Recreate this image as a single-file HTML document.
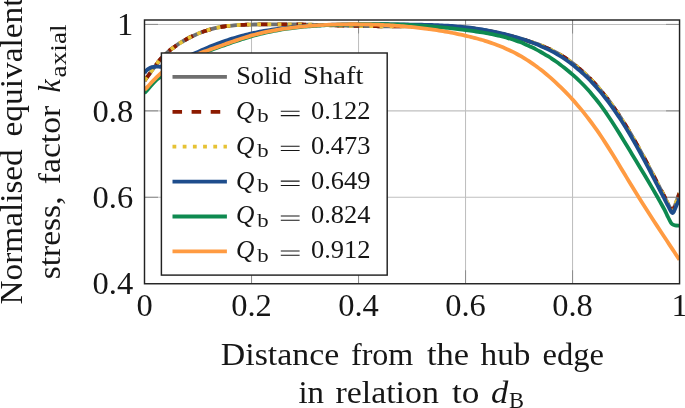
<!DOCTYPE html>
<html><head><meta charset="utf-8"><title>chart</title>
<style>html,body{margin:0;padding:0;background:#fff;overflow:hidden}body{width:685px;height:408px;position:relative;font-family:"Liberation Serif",serif}</style>
</head><body>
<svg width="685" height="408" viewBox="0 0 685 408" style="position:absolute;left:0;top:0">
<rect x="0" y="0" width="685" height="408" fill="#fff"/>
<line x1="251.51" y1="20.0" x2="251.51" y2="283.75" stroke="#bfbfbf" stroke-width="1.05"/>
<line x1="358.52" y1="20.0" x2="358.52" y2="283.75" stroke="#bfbfbf" stroke-width="1.05"/>
<line x1="465.53" y1="20.0" x2="465.53" y2="283.75" stroke="#bfbfbf" stroke-width="1.05"/>
<line x1="572.54" y1="20.0" x2="572.54" y2="283.75" stroke="#bfbfbf" stroke-width="1.05"/>
<line x1="144.5" y1="197.30" x2="679.55" y2="197.30" stroke="#bfbfbf" stroke-width="1.05"/>
<line x1="144.5" y1="110.85" x2="679.55" y2="110.85" stroke="#bfbfbf" stroke-width="1.05"/>
<line x1="144.5" y1="24.40" x2="679.55" y2="24.40" stroke="#bfbfbf" stroke-width="1.05"/>
<line x1="251.51" y1="283.75" x2="251.51" y2="270.25" stroke="#8e8e8e" stroke-width="1.05"/>
<line x1="251.51" y1="20.0" x2="251.51" y2="33.5" stroke="#8e8e8e" stroke-width="1.05"/>
<line x1="358.52" y1="283.75" x2="358.52" y2="270.25" stroke="#8e8e8e" stroke-width="1.05"/>
<line x1="358.52" y1="20.0" x2="358.52" y2="33.5" stroke="#8e8e8e" stroke-width="1.05"/>
<line x1="465.53" y1="283.75" x2="465.53" y2="270.25" stroke="#8e8e8e" stroke-width="1.05"/>
<line x1="465.53" y1="20.0" x2="465.53" y2="33.5" stroke="#8e8e8e" stroke-width="1.05"/>
<line x1="572.54" y1="283.75" x2="572.54" y2="270.25" stroke="#8e8e8e" stroke-width="1.05"/>
<line x1="572.54" y1="20.0" x2="572.54" y2="33.5" stroke="#8e8e8e" stroke-width="1.05"/>
<line x1="144.5" y1="197.30" x2="158.0" y2="197.30" stroke="#8e8e8e" stroke-width="1.05"/>
<line x1="679.55" y1="197.30" x2="666.05" y2="197.30" stroke="#8e8e8e" stroke-width="1.05"/>
<line x1="144.5" y1="110.85" x2="158.0" y2="110.85" stroke="#8e8e8e" stroke-width="1.05"/>
<line x1="679.55" y1="110.85" x2="666.05" y2="110.85" stroke="#8e8e8e" stroke-width="1.05"/>
<line x1="144.5" y1="24.40" x2="158.0" y2="24.40" stroke="#8e8e8e" stroke-width="1.05"/>
<line x1="679.55" y1="24.40" x2="666.05" y2="24.40" stroke="#8e8e8e" stroke-width="1.05"/>
<clipPath id="cp"><rect x="144.5" y="20.0" width="535.05" height="263.75"/></clipPath>
<g clip-path="url(#cp)" fill="none" stroke-width="3.8">
<path d="M144.50,80.60 C145.08,79.83 146.85,77.57 148.00,76.00 C149.15,74.43 150.15,72.93 151.40,71.20 C152.65,69.47 154.15,67.42 155.50,65.60 C156.85,63.78 158.25,61.83 159.50,60.30 C160.75,58.77 161.55,57.85 163.00,56.40 C164.45,54.95 166.67,52.92 168.20,51.60 C169.73,50.28 170.87,49.49 172.20,48.49 C173.53,47.49 174.87,46.53 176.20,45.61 C177.53,44.69 178.87,43.80 180.20,42.95 C181.53,42.10 182.87,41.29 184.20,40.51 C185.53,39.73 186.87,38.99 188.20,38.28 C189.53,37.56 190.87,36.89 192.20,36.25 C193.53,35.60 194.87,34.99 196.20,34.41 C197.53,33.83 198.87,33.29 200.20,32.77 C201.53,32.25 202.87,31.76 204.20,31.31 C205.53,30.85 206.87,30.42 208.20,30.02 C209.53,29.62 210.87,29.25 212.20,28.91 C213.53,28.56 214.87,28.25 216.20,27.96 C217.53,27.67 218.87,27.40 220.20,27.16 C221.53,26.92 222.87,26.70 224.20,26.50 C225.53,26.30 226.87,26.13 228.20,25.97 C229.53,25.81 230.87,25.67 232.20,25.54 C233.53,25.42 234.87,25.31 236.20,25.21 C237.53,25.12 238.87,25.04 240.20,24.97 C241.53,24.89 242.87,24.84 244.20,24.78 C245.53,24.73 246.87,24.69 248.20,24.65 C249.53,24.61 250.87,24.58 252.20,24.56 C253.53,24.53 254.87,24.51 256.20,24.48 C257.53,24.46 258.87,24.44 260.20,24.42 C261.53,24.40 262.87,24.39 264.20,24.37 C265.53,24.36 266.87,24.34 268.20,24.33 C269.53,24.32 270.87,24.31 272.20,24.31 C273.53,24.30 274.87,24.29 276.20,24.29 C277.53,24.29 278.87,24.29 280.20,24.29 C281.53,24.29 282.87,24.30 284.20,24.30 C285.53,24.31 286.87,24.32 288.20,24.33 C289.53,24.34 290.87,24.35 292.20,24.36 C293.53,24.38 294.87,24.39 296.20,24.41 C297.53,24.43 298.87,24.45 300.20,24.48 C301.53,24.50 302.87,24.53 304.20,24.55 C305.53,24.58 306.87,24.61 308.20,24.64 C309.53,24.67 310.87,24.71 312.20,24.74 C313.53,24.78 314.87,24.81 316.20,24.85 C317.53,24.89 318.87,24.92 320.20,24.96 C321.53,25.00 322.87,25.04 324.20,25.08 C325.53,25.12 326.87,25.16 328.20,25.20 C329.53,25.24 330.87,25.28 332.20,25.32 C333.53,25.36 334.87,25.40 336.20,25.44 C337.53,25.47 338.87,25.51 340.20,25.55 C341.53,25.59 342.87,25.62 344.20,25.66 C345.53,25.69 346.87,25.73 348.20,25.76 C349.53,25.79 350.87,25.82 352.20,25.85 C353.53,25.88 354.87,25.90 356.20,25.93 C357.53,25.95 358.87,25.98 360.20,26.00 C361.53,26.02 362.87,26.04 364.20,26.06 C365.53,26.08 366.87,26.10 368.20,26.12 C369.53,26.14 370.87,26.15 372.20,26.17 C373.53,26.18 374.87,26.20 376.20,26.21 C377.53,26.22 378.87,26.24 380.20,26.25 C381.53,26.26 382.87,26.27 384.20,26.28 C385.53,26.29 386.87,26.30 388.20,26.31 C389.53,26.32 390.87,26.33 392.20,26.34 C393.53,26.35 394.87,26.36 396.20,26.37 C397.53,26.38 398.87,26.39 400.20,26.40 C401.53,26.41 402.87,26.42 404.20,26.43 C405.53,26.43 406.87,26.44 408.20,26.45 C409.53,26.46 410.87,26.47 412.20,26.48 C413.53,26.50 414.87,26.51 416.20,26.52 C417.53,26.53 418.87,26.54 420.20,26.56 C421.53,26.57 422.87,26.59 424.20,26.61 C425.53,26.63 426.87,26.65 428.20,26.67 C429.53,26.69 430.87,26.71 432.20,26.74 C433.53,26.77 434.87,26.80 436.20,26.83 C437.53,26.86 438.87,26.90 440.20,26.94 C441.53,26.97 442.87,27.02 444.20,27.06 C445.53,27.11 446.87,27.16 448.20,27.21 C449.53,27.26 450.87,27.32 452.20,27.38 C453.53,27.45 454.90,27.51 456.20,27.58 C457.50,27.65 458.70,27.82 460.00,27.80 C461.30,27.78 462.67,27.45 464.00,27.46 C465.33,27.48 466.67,27.75 468.00,27.90 C469.33,28.06 470.67,28.22 472.00,28.39 C473.33,28.56 474.67,28.75 476.00,28.94 C477.33,29.13 478.67,29.33 480.00,29.54 C481.33,29.75 482.67,29.97 484.00,30.19 C485.33,30.42 486.67,30.66 488.00,30.91 C489.33,31.16 490.67,31.41 492.00,31.68 C493.33,31.95 494.67,32.22 496.00,32.51 C497.33,32.80 498.67,33.10 500.00,33.40 C501.33,33.71 502.67,34.03 504.00,34.35 C505.33,34.68 506.67,35.02 508.00,35.37 C509.33,35.72 510.67,36.07 512.00,36.44 C513.33,36.81 514.67,37.19 516.00,37.58 C517.33,37.98 518.67,38.41 520.00,38.79 C521.33,39.17 522.67,39.49 524.00,39.86 C525.33,40.23 526.67,40.61 528.00,41.01 C529.33,41.41 530.67,41.82 532.00,42.25 C533.33,42.68 534.67,43.12 536.00,43.59 C537.33,44.05 538.67,44.52 540.00,45.04 C541.33,45.55 542.67,46.11 544.00,46.67 C545.33,47.24 546.67,47.83 548.00,48.44 C549.33,49.06 550.67,49.69 552.00,50.36 C553.33,51.02 554.67,51.71 556.00,52.43 C557.33,53.15 558.67,53.88 560.00,54.68 C561.33,55.47 562.67,56.31 564.00,57.18 C565.33,58.05 566.67,58.94 568.00,59.88 C569.33,60.81 570.67,61.77 572.00,62.77 C573.33,63.77 574.67,64.81 576.00,65.88 C577.33,66.95 578.67,68.06 580.00,69.20 C581.33,70.35 582.67,71.53 584.00,72.76 C585.33,73.98 586.67,75.24 588.00,76.55 C589.33,77.86 590.67,79.20 592.00,80.59 C593.33,81.98 594.67,83.41 596.00,84.89 C597.33,86.37 598.67,87.88 600.00,89.46 C601.33,91.03 602.67,92.66 604.00,94.33 C605.33,96.00 606.67,97.71 608.00,99.47 C609.33,101.23 610.67,103.04 612.00,104.89 C613.33,106.74 614.67,108.63 616.00,110.57 C617.33,112.51 618.67,114.49 620.00,116.52 C621.33,118.54 622.67,120.61 624.00,122.72 C625.33,124.84 626.67,126.99 628.00,129.19 C629.33,131.38 630.67,133.62 632.00,135.90 C633.33,138.19 634.67,140.51 636.00,142.87 C637.33,145.23 638.67,147.63 640.00,150.07 C641.33,152.51 642.67,154.99 644.00,157.49 C645.33,159.98 646.67,162.51 648.00,165.04 C649.33,167.57 650.67,170.13 652.00,172.69 C653.33,175.24 654.67,177.81 656.00,180.37 C657.33,182.93 658.72,185.59 660.00,188.05 C661.28,190.50 662.70,193.14 663.70,195.10 C664.70,197.06 665.12,198.02 666.00,199.80 C666.88,201.58 668.17,204.20 669.00,205.80 C669.83,207.40 670.43,208.60 671.00,209.40 C671.57,210.20 671.97,210.63 672.40,210.60 C672.83,210.57 673.17,210.07 673.60,209.20 C674.03,208.33 674.43,206.97 675.00,205.40 C675.57,203.83 676.27,201.83 677.00,199.80 C677.73,197.77 679.00,194.30 679.40,193.20" stroke="#6f6f6f"/>
<path d="M144.50,80.60 C145.08,79.83 146.85,77.57 148.00,76.00 C149.15,74.43 150.15,72.93 151.40,71.20 C152.65,69.47 154.15,67.42 155.50,65.60 C156.85,63.78 158.25,61.83 159.50,60.30 C160.75,58.77 161.55,57.85 163.00,56.40 C164.45,54.95 166.67,52.92 168.20,51.60 C169.73,50.28 170.87,49.49 172.20,48.49 C173.53,47.49 174.87,46.53 176.20,45.61 C177.53,44.69 178.87,43.80 180.20,42.95 C181.53,42.10 182.87,41.29 184.20,40.51 C185.53,39.73 186.87,38.99 188.20,38.28 C189.53,37.56 190.87,36.89 192.20,36.25 C193.53,35.60 194.87,34.99 196.20,34.41 C197.53,33.83 198.87,33.29 200.20,32.77 C201.53,32.25 202.87,31.76 204.20,31.31 C205.53,30.85 206.87,30.42 208.20,30.02 C209.53,29.62 210.87,29.25 212.20,28.91 C213.53,28.56 214.87,28.25 216.20,27.96 C217.53,27.67 218.87,27.40 220.20,27.16 C221.53,26.92 222.87,26.70 224.20,26.50 C225.53,26.30 226.87,26.13 228.20,25.97 C229.53,25.81 230.87,25.67 232.20,25.54 C233.53,25.42 234.87,25.31 236.20,25.21 C237.53,25.12 238.87,25.04 240.20,24.97 C241.53,24.89 242.87,24.84 244.20,24.78 C245.53,24.73 246.87,24.69 248.20,24.65 C249.53,24.61 250.87,24.58 252.20,24.56 C253.53,24.53 254.87,24.51 256.20,24.48 C257.53,24.46 258.87,24.44 260.20,24.42 C261.53,24.40 262.87,24.39 264.20,24.37 C265.53,24.36 266.87,24.34 268.20,24.33 C269.53,24.32 270.87,24.31 272.20,24.31 C273.53,24.30 274.87,24.29 276.20,24.29 C277.53,24.29 278.87,24.29 280.20,24.29 C281.53,24.29 282.87,24.30 284.20,24.30 C285.53,24.31 286.87,24.32 288.20,24.33 C289.53,24.34 290.87,24.35 292.20,24.36 C293.53,24.38 294.87,24.39 296.20,24.41 C297.53,24.43 298.87,24.45 300.20,24.48 C301.53,24.50 302.87,24.53 304.20,24.55 C305.53,24.58 306.87,24.61 308.20,24.64 C309.53,24.67 310.87,24.71 312.20,24.74 C313.53,24.78 314.87,24.81 316.20,24.85 C317.53,24.89 318.87,24.92 320.20,24.96 C321.53,25.00 322.87,25.04 324.20,25.08 C325.53,25.12 326.87,25.16 328.20,25.20 C329.53,25.24 330.87,25.28 332.20,25.32 C333.53,25.36 334.87,25.40 336.20,25.44 C337.53,25.47 338.87,25.51 340.20,25.55 C341.53,25.59 342.87,25.62 344.20,25.66 C345.53,25.69 346.87,25.73 348.20,25.76 C349.53,25.79 350.87,25.82 352.20,25.85 C353.53,25.88 354.87,25.90 356.20,25.93 C357.53,25.95 358.87,25.98 360.20,26.00 C361.53,26.02 362.87,26.04 364.20,26.06 C365.53,26.08 366.87,26.10 368.20,26.12 C369.53,26.14 370.87,26.15 372.20,26.17 C373.53,26.18 374.87,26.20 376.20,26.21 C377.53,26.22 378.87,26.24 380.20,26.25 C381.53,26.26 382.87,26.27 384.20,26.28 C385.53,26.29 386.87,26.30 388.20,26.31 C389.53,26.32 390.87,26.33 392.20,26.34 C393.53,26.35 394.87,26.36 396.20,26.37 C397.53,26.38 398.87,26.39 400.20,26.40 C401.53,26.41 402.87,26.42 404.20,26.43 C405.53,26.43 406.87,26.44 408.20,26.45 C409.53,26.46 410.87,26.47 412.20,26.48 C413.53,26.50 414.87,26.51 416.20,26.52 C417.53,26.53 418.87,26.54 420.20,26.56 C421.53,26.57 422.87,26.59 424.20,26.61 C425.53,26.63 426.87,26.65 428.20,26.67 C429.53,26.69 430.87,26.71 432.20,26.74 C433.53,26.77 434.87,26.80 436.20,26.83 C437.53,26.86 438.87,26.90 440.20,26.94 C441.53,26.97 442.87,27.02 444.20,27.06 C445.53,27.11 446.87,27.16 448.20,27.21 C449.53,27.26 450.87,27.32 452.20,27.38 C453.53,27.45 454.90,27.51 456.20,27.58 C457.50,27.65 458.70,27.82 460.00,27.80 C461.30,27.78 462.67,27.45 464.00,27.46 C465.33,27.48 466.67,27.75 468.00,27.90 C469.33,28.06 470.67,28.22 472.00,28.39 C473.33,28.56 474.67,28.75 476.00,28.94 C477.33,29.13 478.67,29.33 480.00,29.54 C481.33,29.75 482.67,29.97 484.00,30.19 C485.33,30.42 486.67,30.66 488.00,30.91 C489.33,31.16 490.67,31.41 492.00,31.68 C493.33,31.95 494.67,32.22 496.00,32.51 C497.33,32.80 498.67,33.10 500.00,33.40 C501.33,33.71 502.67,34.03 504.00,34.35 C505.33,34.68 506.67,35.02 508.00,35.37 C509.33,35.72 510.67,36.07 512.00,36.44 C513.33,36.81 514.67,37.19 516.00,37.58 C517.33,37.98 518.67,38.41 520.00,38.79 C521.33,39.17 522.67,39.49 524.00,39.86 C525.33,40.23 526.67,40.61 528.00,41.01 C529.33,41.41 530.67,41.82 532.00,42.25 C533.33,42.68 534.67,43.12 536.00,43.59 C537.33,44.05 538.67,44.52 540.00,45.04 C541.33,45.55 542.67,46.11 544.00,46.67 C545.33,47.24 546.67,47.83 548.00,48.44 C549.33,49.06 550.67,49.69 552.00,50.36 C553.33,51.02 554.67,51.71 556.00,52.43 C557.33,53.15 558.67,53.88 560.00,54.68 C561.33,55.47 562.67,56.31 564.00,57.18 C565.33,58.05 566.67,58.94 568.00,59.88 C569.33,60.81 570.67,61.77 572.00,62.77 C573.33,63.77 574.67,64.81 576.00,65.88 C577.33,66.95 578.67,68.06 580.00,69.20 C581.33,70.35 582.67,71.53 584.00,72.76 C585.33,73.98 586.67,75.24 588.00,76.55 C589.33,77.86 590.67,79.20 592.00,80.59 C593.33,81.98 594.67,83.41 596.00,84.89 C597.33,86.37 598.67,87.88 600.00,89.46 C601.33,91.03 602.67,92.66 604.00,94.33 C605.33,96.00 606.67,97.71 608.00,99.47 C609.33,101.23 610.67,103.04 612.00,104.89 C613.33,106.74 614.67,108.63 616.00,110.57 C617.33,112.51 618.67,114.49 620.00,116.52 C621.33,118.54 622.67,120.61 624.00,122.72 C625.33,124.84 626.67,126.99 628.00,129.19 C629.33,131.38 630.67,133.62 632.00,135.90 C633.33,138.19 634.67,140.51 636.00,142.87 C637.33,145.23 638.67,147.63 640.00,150.07 C641.33,152.51 642.67,154.99 644.00,157.49 C645.33,159.98 646.67,162.51 648.00,165.04 C649.33,167.57 650.67,170.13 652.00,172.69 C653.33,175.24 654.67,177.81 656.00,180.37 C657.33,182.93 658.72,185.59 660.00,188.05 C661.28,190.50 662.70,193.14 663.70,195.10 C664.70,197.06 665.12,198.02 666.00,199.80 C666.88,201.58 668.17,204.20 669.00,205.80 C669.83,207.40 670.43,208.60 671.00,209.40 C671.57,210.20 671.97,210.63 672.40,210.60 C672.83,210.57 673.17,210.07 673.60,209.20 C674.03,208.33 674.43,206.97 675.00,205.40 C675.57,203.83 676.27,201.83 677.00,199.80 C677.73,197.77 679.00,194.30 679.40,193.20" stroke="#8c1a00" stroke-dasharray="9.55 9.55" stroke-dashoffset="-0.2"/>
<path d="M144.50,80.60 C145.08,79.83 146.85,77.57 148.00,76.00 C149.15,74.43 150.15,72.93 151.40,71.20 C152.65,69.47 154.15,67.42 155.50,65.60 C156.85,63.78 158.25,61.83 159.50,60.30 C160.75,58.77 161.55,57.85 163.00,56.40 C164.45,54.95 166.67,52.92 168.20,51.60 C169.73,50.28 170.87,49.49 172.20,48.49 C173.53,47.49 174.87,46.53 176.20,45.61 C177.53,44.69 178.87,43.80 180.20,42.95 C181.53,42.10 182.87,41.29 184.20,40.51 C185.53,39.73 186.87,38.99 188.20,38.28 C189.53,37.56 190.87,36.89 192.20,36.25 C193.53,35.60 194.87,34.99 196.20,34.41 C197.53,33.83 198.87,33.29 200.20,32.77 C201.53,32.25 202.87,31.76 204.20,31.31 C205.53,30.85 206.87,30.42 208.20,30.02 C209.53,29.62 210.87,29.25 212.20,28.91 C213.53,28.56 214.87,28.25 216.20,27.96 C217.53,27.67 218.87,27.40 220.20,27.16 C221.53,26.92 222.87,26.70 224.20,26.50 C225.53,26.30 226.87,26.13 228.20,25.97 C229.53,25.81 230.87,25.67 232.20,25.54 C233.53,25.42 234.87,25.31 236.20,25.21 C237.53,25.12 238.87,25.04 240.20,24.97 C241.53,24.89 242.87,24.84 244.20,24.78 C245.53,24.73 246.87,24.69 248.20,24.65 C249.53,24.61 250.87,24.58 252.20,24.56 C253.53,24.53 254.87,24.51 256.20,24.48 C257.53,24.46 258.87,24.44 260.20,24.42 C261.53,24.40 262.87,24.39 264.20,24.37 C265.53,24.36 266.87,24.34 268.20,24.33 C269.53,24.32 270.87,24.31 272.20,24.31 C273.53,24.30 274.87,24.29 276.20,24.29 C277.53,24.29 278.87,24.29 280.20,24.29 C281.53,24.29 282.87,24.30 284.20,24.30 C285.53,24.31 286.87,24.32 288.20,24.33 C289.53,24.34 290.87,24.35 292.20,24.36 C293.53,24.38 294.87,24.39 296.20,24.41 C297.53,24.43 298.87,24.45 300.20,24.48 C301.53,24.50 302.87,24.53 304.20,24.55 C305.53,24.58 306.87,24.61 308.20,24.64 C309.53,24.67 310.87,24.71 312.20,24.74 C313.53,24.78 314.87,24.81 316.20,24.85 C317.53,24.89 318.87,24.92 320.20,24.96 C321.53,25.00 322.87,25.04 324.20,25.08 C325.53,25.12 326.87,25.16 328.20,25.20 C329.53,25.24 330.87,25.28 332.20,25.32 C333.53,25.36 334.87,25.40 336.20,25.44 C337.53,25.47 338.87,25.51 340.20,25.55 C341.53,25.59 342.87,25.62 344.20,25.66 C345.53,25.69 346.87,25.73 348.20,25.76 C349.53,25.79 350.87,25.82 352.20,25.85 C353.53,25.88 354.87,25.90 356.20,25.93 C357.53,25.95 358.87,25.98 360.20,26.00 C361.53,26.02 362.87,26.04 364.20,26.06 C365.53,26.08 366.87,26.10 368.20,26.12 C369.53,26.14 370.87,26.15 372.20,26.17 C373.53,26.18 374.87,26.20 376.20,26.21 C377.53,26.22 378.87,26.24 380.20,26.25 C381.53,26.26 382.87,26.27 384.20,26.28 C385.53,26.29 386.87,26.30 388.20,26.31 C389.53,26.32 390.87,26.33 392.20,26.34 C393.53,26.35 394.87,26.36 396.20,26.37 C397.53,26.38 398.87,26.39 400.20,26.40 C401.53,26.41 402.87,26.42 404.20,26.43 C405.53,26.43 406.87,26.44 408.20,26.45 C409.53,26.46 410.87,26.47 412.20,26.48 C413.53,26.50 414.87,26.51 416.20,26.52 C417.53,26.53 418.87,26.54 420.20,26.56 C421.53,26.57 422.87,26.59 424.20,26.61 C425.53,26.63 426.87,26.65 428.20,26.67 C429.53,26.69 430.87,26.71 432.20,26.74 C433.53,26.77 434.87,26.80 436.20,26.83 C437.53,26.86 438.87,26.90 440.20,26.94 C441.53,26.97 442.87,27.02 444.20,27.06 C445.53,27.11 446.87,27.16 448.20,27.21 C449.53,27.26 450.87,27.32 452.20,27.38 C453.53,27.45 454.90,27.51 456.20,27.58 C457.50,27.65 458.70,27.82 460.00,27.80 C461.30,27.78 462.67,27.45 464.00,27.46 C465.33,27.48 466.67,27.75 468.00,27.90 C469.33,28.06 470.67,28.22 472.00,28.39 C473.33,28.56 474.67,28.75 476.00,28.94 C477.33,29.13 478.67,29.33 480.00,29.54 C481.33,29.75 482.67,29.97 484.00,30.19 C485.33,30.42 486.67,30.66 488.00,30.91 C489.33,31.16 490.67,31.41 492.00,31.68 C493.33,31.95 494.67,32.22 496.00,32.51 C497.33,32.80 498.67,33.10 500.00,33.40 C501.33,33.71 502.67,34.03 504.00,34.35 C505.33,34.68 506.67,35.02 508.00,35.37 C509.33,35.72 510.67,36.07 512.00,36.44 C513.33,36.81 514.67,37.19 516.00,37.58 C517.33,37.98 518.67,38.41 520.00,38.79 C521.33,39.17 522.67,39.49 524.00,39.86 C525.33,40.23 526.67,40.61 528.00,41.01 C529.33,41.41 530.67,41.82 532.00,42.25 C533.33,42.68 534.67,43.12 536.00,43.59 C537.33,44.05 538.67,44.52 540.00,45.04 C541.33,45.55 542.67,46.11 544.00,46.67 C545.33,47.24 546.67,47.83 548.00,48.44 C549.33,49.06 550.67,49.69 552.00,50.36 C553.33,51.02 554.67,51.71 556.00,52.43 C557.33,53.15 558.67,53.88 560.00,54.68 C561.33,55.47 562.67,56.31 564.00,57.18 C565.33,58.05 566.67,58.94 568.00,59.88 C569.33,60.81 570.67,61.77 572.00,62.77 C573.33,63.77 574.67,64.81 576.00,65.88 C577.33,66.95 578.67,68.06 580.00,69.20 C581.33,70.35 582.67,71.53 584.00,72.76 C585.33,73.98 586.67,75.24 588.00,76.55 C589.33,77.86 590.67,79.20 592.00,80.59 C593.33,81.98 594.67,83.41 596.00,84.89 C597.33,86.37 598.67,87.88 600.00,89.46 C601.33,91.03 602.67,92.66 604.00,94.33 C605.33,96.00 606.67,97.71 608.00,99.47 C609.33,101.23 610.67,103.04 612.00,104.89 C613.33,106.74 614.67,108.63 616.00,110.57 C617.33,112.51 618.67,114.49 620.00,116.52 C621.33,118.54 622.67,120.61 624.00,122.72 C625.33,124.84 626.67,126.99 628.00,129.19 C629.33,131.38 630.67,133.62 632.00,135.90 C633.33,138.19 634.67,140.51 636.00,142.87 C637.33,145.23 638.67,147.63 640.00,150.07 C641.33,152.51 642.67,154.99 644.00,157.49 C645.33,159.98 646.67,162.51 648.00,165.04 C649.33,167.57 650.67,170.13 652.00,172.69 C653.33,175.24 654.67,177.81 656.00,180.37 C657.33,182.93 658.72,185.59 660.00,188.05 C661.28,190.50 662.70,193.14 663.70,195.10 C664.70,197.06 665.12,198.02 666.00,199.80 C666.88,201.58 668.17,204.20 669.00,205.80 C669.83,207.40 670.43,208.60 671.00,209.40 C671.57,210.20 671.97,210.63 672.40,210.60 C672.83,210.57 673.17,210.07 673.60,209.20 C674.03,208.33 674.43,206.97 675.00,205.40 C675.57,203.83 676.27,201.83 677.00,199.80 C677.73,197.77 679.00,194.30 679.40,193.20" stroke="#e6c235" stroke-dasharray="3.8 6.4" stroke-dashoffset="-0.2"/>
<path d="M144.50,73.00 C144.75,72.67 145.42,71.63 146.00,71.00 C146.58,70.37 147.00,69.83 148.00,69.20 C149.00,68.57 150.50,67.63 152.00,67.20 C153.50,66.77 155.42,66.70 157.00,66.60 C158.58,66.50 159.33,67.03 161.50,66.60 C163.67,66.17 166.92,65.17 170.00,64.00 C173.08,62.83 177.67,60.61 180.00,59.60 C182.33,58.59 182.67,58.51 184.00,57.96 C185.33,57.40 186.67,56.83 188.00,56.26 C189.33,55.68 190.67,55.10 192.00,54.52 C193.33,53.93 194.67,53.34 196.00,52.76 C197.33,52.17 198.67,51.58 200.00,50.99 C201.33,50.41 202.67,49.82 204.00,49.24 C205.33,48.66 206.67,48.09 208.00,47.53 C209.33,46.96 210.67,46.40 212.00,45.86 C213.33,45.32 214.67,44.78 216.00,44.26 C217.33,43.74 218.67,43.24 220.00,42.75 C221.33,42.26 222.67,41.78 224.00,41.31 C225.33,40.85 226.67,40.39 228.00,39.95 C229.33,39.52 230.67,39.09 232.00,38.67 C233.33,38.26 234.67,37.86 236.00,37.47 C237.33,37.08 238.67,36.70 240.00,36.33 C241.33,35.97 242.67,35.61 244.00,35.27 C245.33,34.93 246.67,34.60 248.00,34.28 C249.33,33.96 250.67,33.65 252.00,33.35 C253.33,33.06 254.67,32.77 256.00,32.49 C257.33,32.22 258.67,31.95 260.00,31.69 C261.33,31.44 262.67,31.19 264.00,30.96 C265.33,30.72 266.67,30.49 268.00,30.28 C269.33,30.06 270.67,29.85 272.00,29.65 C273.33,29.45 274.67,29.26 276.00,29.07 C277.33,28.89 278.67,28.72 280.00,28.55 C281.33,28.38 282.67,28.22 284.00,28.06 C285.33,27.91 286.67,27.76 288.00,27.62 C289.33,27.48 290.67,27.35 292.00,27.22 C293.33,27.09 294.67,26.97 296.00,26.85 C297.33,26.73 298.67,26.62 300.00,26.51 C301.33,26.41 302.67,26.31 304.00,26.21 C305.33,26.11 306.67,26.02 308.00,25.93 C309.33,25.84 310.67,25.76 312.00,25.68 C313.33,25.60 314.67,25.52 316.00,25.45 C317.33,25.38 318.67,25.31 320.00,25.25 C321.33,25.18 322.67,25.12 324.00,25.07 C325.33,25.01 326.67,24.96 328.00,24.91 C329.33,24.86 330.67,24.81 332.00,24.77 C333.33,24.73 334.67,24.69 336.00,24.65 C337.33,24.61 338.67,24.58 340.00,24.54 C341.33,24.51 342.67,24.48 344.00,24.46 C345.33,24.43 346.67,24.41 348.00,24.38 C349.33,24.36 350.67,24.34 352.00,24.32 C353.33,24.31 354.67,24.29 356.00,24.28 C357.33,24.26 358.67,24.25 360.00,24.24 C361.33,24.23 362.67,24.22 364.00,24.22 C365.33,24.21 366.67,24.21 368.00,24.20 C369.33,24.20 370.67,24.20 372.00,24.20 C373.33,24.20 374.67,24.20 376.00,24.20 C377.33,24.21 378.67,24.21 380.00,24.22 C381.33,24.22 382.67,24.23 384.00,24.24 C385.33,24.25 386.67,24.26 388.00,24.27 C389.33,24.28 390.67,24.29 392.00,24.31 C393.33,24.32 394.67,24.33 396.00,24.35 C397.33,24.36 398.67,24.38 400.00,24.40 C401.33,24.41 402.67,24.43 404.00,24.45 C405.33,24.47 406.67,24.49 408.00,24.51 C409.33,24.53 410.67,24.55 412.00,24.57 C413.33,24.59 414.67,24.61 416.00,24.64 C417.33,24.66 418.67,24.68 420.00,24.71 C421.33,24.74 422.67,24.77 424.00,24.80 C425.33,24.83 426.67,24.86 428.00,24.90 C429.33,24.94 430.67,24.98 432.00,25.02 C433.33,25.07 434.67,25.11 436.00,25.17 C437.33,25.22 438.67,25.27 440.00,25.33 C441.33,25.39 442.67,25.46 444.00,25.53 C445.33,25.60 446.67,25.68 448.00,25.76 C449.33,25.84 450.67,25.93 452.00,26.02 C453.33,26.12 454.67,26.22 456.00,26.33 C457.33,26.43 458.67,26.55 460.00,26.67 C461.33,26.79 462.67,26.92 464.00,27.06 C465.33,27.20 466.67,27.35 468.00,27.50 C469.33,27.66 470.67,27.82 472.00,27.99 C473.33,28.16 474.67,28.35 476.00,28.54 C477.33,28.73 478.67,28.93 480.00,29.14 C481.33,29.35 482.67,29.57 484.00,29.79 C485.33,30.02 486.67,30.26 488.00,30.51 C489.33,30.76 490.67,31.01 492.00,31.28 C493.33,31.55 494.67,31.82 496.00,32.11 C497.33,32.40 498.67,32.70 500.00,33.00 C501.33,33.31 502.67,33.63 504.00,33.95 C505.33,34.28 506.67,34.62 508.00,34.97 C509.33,35.32 510.67,35.67 512.00,36.04 C513.33,36.41 514.67,36.79 516.00,37.18 C517.33,37.58 518.67,37.98 520.00,38.39 C521.33,38.80 522.67,39.22 524.00,39.66 C525.33,40.10 526.67,40.55 528.00,41.01 C529.33,41.48 530.67,41.95 532.00,42.45 C533.33,42.95 534.67,43.46 536.00,43.99 C537.33,44.52 538.67,45.07 540.00,45.64 C541.33,46.21 542.67,46.80 544.00,47.41 C545.33,48.03 546.67,48.66 548.00,49.32 C549.33,49.98 550.67,50.67 552.00,51.38 C553.33,52.09 554.67,52.83 556.00,53.59 C557.33,54.36 558.67,55.15 560.00,55.98 C561.33,56.80 562.67,57.65 564.00,58.54 C565.33,59.43 566.67,60.34 568.00,61.30 C569.33,62.25 570.67,63.23 572.00,64.25 C573.33,65.27 574.67,66.33 576.00,67.42 C577.33,68.51 578.67,69.64 580.00,70.80 C581.33,71.97 582.67,73.17 584.00,74.42 C585.33,75.66 586.67,76.94 588.00,78.27 C589.33,79.60 590.67,80.96 592.00,82.37 C593.33,83.78 594.67,85.23 596.00,86.73 C597.33,88.23 598.67,89.77 600.00,91.36 C601.33,92.95 602.67,94.58 604.00,96.26 C605.33,97.94 606.67,99.66 608.00,101.43 C609.33,103.20 610.67,105.02 612.00,106.88 C613.33,108.74 614.67,110.64 616.00,112.59 C617.33,114.54 618.67,116.53 620.00,118.57 C621.33,120.60 622.67,122.68 624.00,124.80 C625.33,126.93 626.67,129.09 628.00,131.30 C629.33,133.50 630.67,135.75 632.00,138.04 C633.33,140.34 634.67,142.67 636.00,145.04 C637.33,147.41 638.67,149.83 640.00,152.27 C641.33,154.71 642.67,157.19 644.00,159.69 C645.33,162.18 646.67,164.71 648.00,167.24 C649.33,169.77 650.67,172.33 652.00,174.89 C653.33,177.44 654.67,180.01 656.00,182.57 C657.33,185.13 658.72,187.79 660.00,190.25 C661.28,192.70 662.53,195.04 663.70,197.30 C664.87,199.56 665.98,201.80 667.00,203.80 C668.02,205.80 669.07,207.92 669.80,209.30 C670.53,210.68 670.93,211.47 671.40,212.10 C671.87,212.73 672.20,213.15 672.60,213.10 C673.00,213.05 673.37,212.58 673.80,211.80 C674.23,211.02 674.67,209.67 675.20,208.40 C675.73,207.13 676.30,205.80 677.00,204.20 C677.70,202.60 679.00,199.70 679.40,198.80" stroke="#1e4d8c"/>
<path d="M144.50,93.20 C145.08,92.55 146.85,90.63 148.00,89.30 C149.15,87.97 150.07,86.68 151.40,85.20 C152.73,83.72 154.57,81.73 156.00,80.40 C157.43,79.07 158.67,78.27 160.00,77.19 C161.33,76.11 162.67,74.96 164.00,73.91 C165.33,72.86 166.67,71.86 168.00,70.90 C169.33,69.94 170.67,69.03 172.00,68.15 C173.33,67.27 174.67,66.43 176.00,65.62 C177.33,64.81 178.67,64.04 180.00,63.30 C181.33,62.56 182.67,61.85 184.00,61.17 C185.33,60.48 186.67,59.83 188.00,59.20 C189.33,58.57 190.67,57.96 192.00,57.37 C193.33,56.79 194.67,56.22 196.00,55.67 C197.33,55.12 198.67,54.59 200.00,54.07 C201.33,53.54 202.67,53.04 204.00,52.54 C205.33,52.04 206.67,51.55 208.00,51.06 C209.33,50.58 210.67,50.10 212.00,49.63 C213.33,49.15 214.67,48.67 216.00,48.20 C217.33,47.72 218.67,47.25 220.00,46.77 C221.33,46.30 222.67,45.82 224.00,45.35 C225.33,44.88 226.67,44.40 228.00,43.94 C229.33,43.47 230.67,43.01 232.00,42.55 C233.33,42.09 234.67,41.63 236.00,41.19 C237.33,40.74 238.67,40.30 240.00,39.86 C241.33,39.43 242.67,39.00 244.00,38.58 C245.33,38.16 246.67,37.75 248.00,37.35 C249.33,36.95 250.67,36.55 252.00,36.17 C253.33,35.79 254.67,35.43 256.00,35.07 C257.33,34.71 258.67,34.37 260.00,34.03 C261.33,33.70 262.67,33.38 264.00,33.07 C265.33,32.76 266.67,32.46 268.00,32.17 C269.33,31.88 270.67,31.60 272.00,31.33 C273.33,31.07 274.67,30.81 276.00,30.56 C277.33,30.31 278.67,30.08 280.00,29.85 C281.33,29.62 282.67,29.40 284.00,29.20 C285.33,28.99 286.67,28.79 288.00,28.60 C289.33,28.41 290.67,28.22 292.00,28.05 C293.33,27.88 294.67,27.71 296.00,27.55 C297.33,27.40 298.67,27.25 300.00,27.11 C301.33,26.97 302.67,26.83 304.00,26.71 C305.33,26.58 306.67,26.46 308.00,26.35 C309.33,26.23 310.67,26.13 312.00,26.03 C313.33,25.93 314.67,25.84 316.00,25.75 C317.33,25.66 318.67,25.58 320.00,25.50 C321.33,25.42 322.67,25.35 324.00,25.29 C325.33,25.22 326.67,25.16 328.00,25.10 C329.33,25.04 330.67,24.99 332.00,24.94 C333.33,24.89 334.67,24.84 336.00,24.80 C337.33,24.75 338.67,24.71 340.00,24.68 C341.33,24.64 342.67,24.61 344.00,24.57 C345.33,24.54 346.67,24.51 348.00,24.48 C349.33,24.45 350.67,24.43 352.00,24.40 C353.33,24.38 354.67,24.35 356.00,24.33 C357.33,24.31 358.67,24.29 360.00,24.27 C361.33,24.26 362.67,24.24 364.00,24.23 C365.33,24.21 366.67,24.20 368.00,24.19 C369.33,24.19 370.67,24.18 372.00,24.18 C373.33,24.17 374.67,24.17 376.00,24.17 C377.33,24.17 378.67,24.18 380.00,24.19 C381.33,24.19 382.67,24.21 384.00,24.22 C385.33,24.23 386.67,24.25 388.00,24.27 C389.33,24.29 390.67,24.32 392.00,24.34 C393.33,24.37 394.67,24.40 396.00,24.44 C397.33,24.47 398.67,24.51 400.00,24.56 C401.33,24.60 402.67,24.65 404.00,24.70 C405.33,24.75 406.67,24.81 408.00,24.87 C409.33,24.93 410.67,24.99 412.00,25.06 C413.33,25.13 414.67,25.21 416.00,25.28 C417.33,25.36 418.67,25.44 420.00,25.53 C421.33,25.62 422.67,25.71 424.00,25.81 C425.33,25.90 426.67,26.00 428.00,26.11 C429.33,26.21 430.67,26.32 432.00,26.43 C433.33,26.54 434.67,26.66 436.00,26.78 C437.33,26.90 438.67,27.03 440.00,27.15 C441.33,27.28 442.67,27.42 444.00,27.55 C445.33,27.69 446.67,27.83 448.00,27.97 C449.33,28.11 450.67,28.26 452.00,28.41 C453.33,28.56 454.67,28.72 456.00,28.88 C457.33,29.03 458.67,29.20 460.00,29.36 C461.33,29.52 462.67,29.69 464.00,29.87 C465.33,30.04 466.67,30.21 468.00,30.39 C469.33,30.57 470.67,30.75 472.00,30.93 C473.33,31.12 474.67,31.31 476.00,31.50 C477.33,31.70 478.67,31.90 480.00,32.11 C481.33,32.31 482.67,32.53 484.00,32.75 C485.33,32.97 486.67,33.21 488.00,33.45 C489.33,33.69 490.67,33.94 492.00,34.21 C493.33,34.47 494.67,34.75 496.00,35.04 C497.33,35.33 498.67,35.63 500.00,35.95 C501.33,36.27 502.67,36.61 504.00,36.96 C505.33,37.31 506.67,37.68 508.00,38.06 C509.33,38.45 510.67,38.85 512.00,39.28 C513.33,39.70 514.67,40.14 516.00,40.61 C517.33,41.07 518.67,41.56 520.00,42.07 C521.33,42.58 522.67,43.11 524.00,43.67 C525.33,44.23 526.67,44.81 528.00,45.41 C529.33,46.01 530.67,46.64 532.00,47.29 C533.33,47.94 534.67,48.61 536.00,49.31 C537.33,50.01 538.67,50.73 540.00,51.47 C541.33,52.22 542.67,52.99 544.00,53.78 C545.33,54.57 546.67,55.39 548.00,56.23 C549.33,57.07 550.67,57.93 552.00,58.82 C553.33,59.71 554.67,60.63 556.00,61.56 C557.33,62.50 558.67,63.46 560.00,64.45 C561.33,65.44 562.67,66.45 564.00,67.49 C565.33,68.53 566.67,69.59 568.00,70.69 C569.33,71.79 570.67,72.92 572.00,74.08 C573.33,75.24 574.67,76.44 576.00,77.67 C577.33,78.90 578.67,80.17 580.00,81.48 C581.33,82.79 582.67,84.13 584.00,85.52 C585.33,86.92 586.67,88.35 588.00,89.83 C589.33,91.31 590.67,92.83 592.00,94.40 C593.33,95.98 594.67,97.59 596.00,99.27 C597.33,100.94 598.67,102.67 600.00,104.44 C601.33,106.22 602.67,108.06 604.00,109.94 C605.33,111.82 606.67,113.75 608.00,115.72 C609.33,117.69 610.67,119.70 612.00,121.74 C613.33,123.79 614.67,125.87 616.00,127.98 C617.33,130.08 618.67,132.22 620.00,134.38 C621.33,136.53 622.67,138.71 624.00,140.90 C625.33,143.09 626.67,145.29 628.00,147.50 C629.33,149.71 630.67,151.94 632.00,154.15 C633.33,156.37 634.67,158.59 636.00,160.81 C637.33,163.02 638.67,165.23 640.00,167.45 C641.33,169.66 642.67,171.88 644.00,174.10 C645.33,176.33 646.67,178.56 648.00,180.81 C649.33,183.06 650.67,185.32 652.00,187.61 C653.33,189.89 654.67,192.19 656.00,194.53 C657.33,196.86 658.57,199.03 660.00,201.60 C661.43,204.18 663.37,207.61 664.60,209.98 C665.83,212.34 666.53,214.03 667.40,215.80 C668.27,217.57 669.13,219.35 669.80,220.60 C670.47,221.85 670.87,222.62 671.40,223.30 C671.93,223.98 672.40,224.37 673.00,224.70 C673.60,225.03 673.93,225.15 675.00,225.30 C676.07,225.45 678.67,225.55 679.40,225.60" stroke="#0e8a50"/>
<path d="M144.50,90.00 C145.08,89.40 146.85,87.65 148.00,86.40 C149.15,85.15 150.07,83.93 151.40,82.50 C152.73,81.07 154.42,79.35 156.00,77.80 C157.58,76.25 159.42,74.42 160.90,73.19 C162.38,71.96 163.57,71.33 164.90,70.45 C166.23,69.57 167.57,68.73 168.90,67.91 C170.23,67.10 171.57,66.31 172.90,65.56 C174.23,64.80 175.57,64.08 176.90,63.37 C178.23,62.67 179.57,61.99 180.90,61.34 C182.23,60.68 183.57,60.05 184.90,59.44 C186.23,58.83 187.57,58.24 188.90,57.66 C190.23,57.09 191.57,56.53 192.90,55.98 C194.23,55.44 195.57,54.91 196.90,54.39 C198.23,53.87 199.57,53.36 200.90,52.86 C202.23,52.36 203.57,51.87 204.90,51.39 C206.23,50.90 207.57,50.43 208.90,49.95 C210.23,49.47 211.57,49.00 212.90,48.53 C214.23,48.05 215.57,47.58 216.90,47.11 C218.23,46.63 219.57,46.15 220.90,45.68 C222.23,45.21 223.57,44.73 224.90,44.26 C226.23,43.79 227.57,43.32 228.90,42.86 C230.23,42.39 231.57,41.93 232.90,41.47 C234.23,41.02 235.57,40.56 236.90,40.12 C238.23,39.68 239.57,39.24 240.90,38.81 C242.23,38.38 243.57,37.96 244.90,37.54 C246.23,37.13 247.57,36.73 248.90,36.34 C250.23,35.94 251.57,35.56 252.90,35.19 C254.23,34.83 255.57,34.47 256.90,34.13 C258.23,33.78 259.57,33.45 260.90,33.14 C262.23,32.82 263.57,32.51 264.90,32.22 C266.23,31.93 267.57,31.64 268.90,31.37 C270.23,31.10 271.57,30.84 272.90,30.59 C274.23,30.34 275.57,30.10 276.90,29.87 C278.23,29.64 279.57,29.42 280.90,29.21 C282.23,29.00 283.57,28.80 284.90,28.61 C286.23,28.42 287.57,28.23 288.90,28.06 C290.23,27.88 291.57,27.72 292.90,27.55 C294.23,27.39 295.57,27.24 296.90,27.10 C298.23,26.95 299.57,26.81 300.90,26.68 C302.23,26.54 303.57,26.42 304.90,26.30 C306.23,26.17 307.57,26.06 308.90,25.95 C310.23,25.84 311.57,25.74 312.90,25.64 C314.23,25.55 315.57,25.45 316.90,25.37 C318.23,25.28 319.57,25.20 320.90,25.13 C322.23,25.05 323.57,24.98 324.90,24.92 C326.23,24.85 327.57,24.79 328.90,24.74 C330.23,24.68 331.57,24.64 332.90,24.59 C334.23,24.55 335.57,24.51 336.90,24.47 C338.23,24.44 339.57,24.41 340.90,24.38 C342.23,24.35 343.57,24.33 344.90,24.31 C346.23,24.30 347.57,24.28 348.90,24.27 C350.23,24.26 351.57,24.26 352.90,24.26 C354.23,24.26 355.57,24.26 356.90,24.27 C358.23,24.27 359.57,24.28 360.90,24.30 C362.23,24.32 363.57,24.33 364.90,24.36 C366.23,24.38 367.57,24.41 368.90,24.44 C370.23,24.47 371.57,24.51 372.90,24.55 C374.23,24.59 375.57,24.64 376.90,24.69 C378.23,24.74 379.57,24.79 380.90,24.85 C382.23,24.91 383.57,24.97 384.90,25.04 C386.23,25.11 387.57,25.18 388.90,25.26 C390.23,25.33 391.57,25.42 392.90,25.50 C394.23,25.59 395.57,25.68 396.90,25.78 C398.23,25.87 399.57,25.97 400.90,26.08 C402.23,26.19 403.57,26.30 404.90,26.41 C406.23,26.53 407.57,26.65 408.90,26.77 C410.23,26.90 411.57,27.03 412.90,27.17 C414.23,27.30 415.57,27.44 416.90,27.59 C418.23,27.73 419.57,27.89 420.90,28.04 C422.23,28.20 423.57,28.36 424.90,28.53 C426.23,28.70 427.57,28.87 428.90,29.06 C430.23,29.24 431.57,29.42 432.90,29.62 C434.23,29.81 435.57,30.01 436.90,30.21 C438.23,30.42 439.57,30.63 440.90,30.85 C442.23,31.07 443.57,31.29 444.90,31.52 C446.23,31.76 447.57,31.99 448.90,32.24 C450.23,32.49 451.57,32.74 452.90,33.00 C454.23,33.26 455.57,33.53 456.90,33.80 C458.23,34.08 459.57,34.36 460.90,34.65 C462.23,34.94 463.57,35.24 464.90,35.55 C466.23,35.85 467.57,36.16 468.90,36.49 C470.23,36.81 471.57,37.14 472.90,37.48 C474.23,37.82 475.57,38.16 476.90,38.52 C478.23,38.88 479.57,39.25 480.90,39.63 C482.23,40.02 483.57,40.41 484.90,40.82 C486.23,41.23 487.57,41.65 488.90,42.08 C490.23,42.52 491.57,42.97 492.90,43.44 C494.23,43.91 495.57,44.39 496.90,44.90 C498.23,45.40 499.57,45.92 500.90,46.46 C502.23,47.00 503.57,47.56 504.90,48.14 C506.23,48.72 507.57,49.32 508.90,49.95 C510.23,50.57 511.57,51.22 512.90,51.89 C514.23,52.56 515.57,53.26 516.90,53.98 C518.23,54.70 519.57,55.44 520.90,56.22 C522.23,56.99 523.57,57.79 524.90,58.61 C526.23,59.44 527.57,60.29 528.90,61.17 C530.23,62.05 531.57,62.95 532.90,63.88 C534.23,64.82 535.57,65.77 536.90,66.76 C538.23,67.75 539.57,68.76 540.90,69.80 C542.23,70.83 543.57,71.90 544.90,72.99 C546.23,74.08 547.57,75.20 548.90,76.35 C550.23,77.49 551.57,78.66 552.90,79.86 C554.23,81.06 555.57,82.28 556.90,83.54 C558.23,84.79 559.57,86.07 560.90,87.37 C562.23,88.68 563.57,90.01 564.90,91.37 C566.23,92.73 567.57,94.12 568.90,95.54 C570.23,96.96 571.57,98.41 572.90,99.89 C574.23,101.37 575.57,102.88 576.90,104.42 C578.23,105.97 579.57,107.54 580.90,109.16 C582.23,110.77 583.57,112.41 584.90,114.09 C586.23,115.77 587.57,117.49 588.90,119.24 C590.23,120.99 591.57,122.78 592.90,124.61 C594.23,126.44 595.57,128.31 596.90,130.21 C598.23,132.12 599.57,134.07 600.90,136.05 C602.23,138.04 603.57,140.06 604.90,142.12 C606.23,144.18 607.57,146.27 608.90,148.39 C610.23,150.50 611.57,152.65 612.90,154.81 C614.23,156.97 615.57,159.15 616.90,161.34 C618.23,163.53 619.57,165.74 620.90,167.95 C622.23,170.16 623.57,172.38 624.90,174.60 C626.23,176.81 627.57,179.03 628.90,181.23 C630.23,183.44 631.57,185.64 632.90,187.83 C634.23,190.01 635.57,192.18 636.90,194.33 C638.23,196.48 639.57,198.62 640.90,200.74 C642.23,202.86 643.57,204.96 644.90,207.06 C646.23,209.15 647.57,211.23 648.90,213.30 C650.23,215.37 651.57,217.43 652.90,219.48 C654.23,221.53 655.57,223.58 656.90,225.61 C658.23,227.65 659.57,229.68 660.90,231.71 C662.23,233.74 663.57,235.76 664.90,237.78 C666.23,239.80 667.57,241.82 668.90,243.84 C670.23,245.86 671.57,247.88 672.90,249.91 C674.23,251.93 675.82,254.34 676.90,255.99 C677.98,257.64 678.98,259.16 679.40,259.80" stroke="#ff9b42"/>
</g>
<rect x="144.5" y="20.0" width="535.05" height="263.75" fill="none" stroke="#222" stroke-width="1.45"/>
<rect x="161.4" y="53.0" width="225.79999999999998" height="222.10000000000002" fill="#fff" stroke="#222" stroke-width="1.45"/>
<g fill="none" stroke-width="3.8">
<line x1="172.5" y1="76.9" x2="226.9" y2="76.9" stroke="#6f6f6f"/>
<line x1="172.5" y1="111.80000000000001" x2="226.9" y2="111.80000000000001" stroke="#8c1a00" stroke-dasharray="9.55 9.55"/>
<line x1="172.5" y1="146.7" x2="226.9" y2="146.7" stroke="#e6c235" stroke-dasharray="3.8 6.4"/>
<line x1="172.5" y1="181.6" x2="226.9" y2="181.6" stroke="#1e4d8c"/>
<line x1="172.5" y1="216.5" x2="226.9" y2="216.5" stroke="#0e8a50"/>
<line x1="172.5" y1="251.4" x2="226.9" y2="251.4" stroke="#ff9b42"/>
</g>
<g font-family="Liberation Serif, serif" fill="#161616" style="opacity:0.999">
<text x="236.20" y="83.70" font-size="25.5" textLength="55.40" lengthAdjust="spacingAndGlyphs">Solid</text>
<text x="303.00" y="83.70" font-size="25.5" textLength="60.40" lengthAdjust="spacingAndGlyphs">Shaft</text>
<text x="236.00" y="118.70" font-size="25" textLength="18.40" lengthAdjust="spacingAndGlyphs" font-style="italic">Q</text>
<text x="257.20" y="122.20" font-size="18" textLength="11.40" lengthAdjust="spacingAndGlyphs">b</text>
<path d="M280.8,111.30H299.6M280.8,115.60H299.6" stroke="#161616" stroke-width="1.05" fill="none"/>
<text x="311.00" y="118.70" font-size="24.3" textLength="59.60" lengthAdjust="spacingAndGlyphs">0.122</text>
<text x="236.00" y="153.60" font-size="25" textLength="18.40" lengthAdjust="spacingAndGlyphs" font-style="italic">Q</text>
<text x="257.20" y="157.10" font-size="18" textLength="11.40" lengthAdjust="spacingAndGlyphs">b</text>
<path d="M280.8,146.20H299.6M280.8,150.50H299.6" stroke="#161616" stroke-width="1.05" fill="none"/>
<text x="311.00" y="153.60" font-size="24.3" textLength="59.60" lengthAdjust="spacingAndGlyphs">0.473</text>
<text x="236.00" y="188.50" font-size="25" textLength="18.40" lengthAdjust="spacingAndGlyphs" font-style="italic">Q</text>
<text x="257.20" y="192.00" font-size="18" textLength="11.40" lengthAdjust="spacingAndGlyphs">b</text>
<path d="M280.8,181.10H299.6M280.8,185.40H299.6" stroke="#161616" stroke-width="1.05" fill="none"/>
<text x="311.00" y="188.50" font-size="24.3" textLength="59.60" lengthAdjust="spacingAndGlyphs">0.649</text>
<text x="236.00" y="223.40" font-size="25" textLength="18.40" lengthAdjust="spacingAndGlyphs" font-style="italic">Q</text>
<text x="257.20" y="226.90" font-size="18" textLength="11.40" lengthAdjust="spacingAndGlyphs">b</text>
<path d="M280.8,216.00H299.6M280.8,220.30H299.6" stroke="#161616" stroke-width="1.05" fill="none"/>
<text x="311.00" y="223.40" font-size="24.3" textLength="59.60" lengthAdjust="spacingAndGlyphs">0.824</text>
<text x="236.00" y="258.30" font-size="25" textLength="18.40" lengthAdjust="spacingAndGlyphs" font-style="italic">Q</text>
<text x="257.20" y="261.80" font-size="18" textLength="11.40" lengthAdjust="spacingAndGlyphs">b</text>
<path d="M280.8,250.90H299.6M280.8,255.20H299.6" stroke="#161616" stroke-width="1.05" fill="none"/>
<text x="311.00" y="258.30" font-size="24.3" textLength="59.60" lengthAdjust="spacingAndGlyphs">0.912</text>
<text x="133.2" y="35.1" font-size="32.5" text-anchor="end">1</text>
<text x="133.2" y="121.5" font-size="32.5" text-anchor="end">0.8</text>
<text x="133.2" y="208.0" font-size="32.5" text-anchor="end">0.6</text>
<text x="133.2" y="294.4" font-size="32.5" text-anchor="end">0.4</text>
<text x="144.5" y="315.7" font-size="32.5" text-anchor="middle">0</text>
<text x="251.5" y="315.7" font-size="32.5" text-anchor="middle">0.2</text>
<text x="358.5" y="315.7" font-size="32.5" text-anchor="middle">0.4</text>
<text x="465.5" y="315.7" font-size="32.5" text-anchor="middle">0.6</text>
<text x="572.5" y="315.7" font-size="32.5" text-anchor="middle">0.8</text>
<text x="679.5" y="315.7" font-size="32.5" text-anchor="middle">1</text>
<text x="220.80" y="365.10" font-size="32" textLength="118.40" lengthAdjust="spacingAndGlyphs">Distance</text>
<text x="351.00" y="365.10" font-size="32" textLength="62.30" lengthAdjust="spacingAndGlyphs">from</text>
<text x="426.90" y="365.10" font-size="32" textLength="42.10" lengthAdjust="spacingAndGlyphs">the</text>
<text x="480.50" y="365.10" font-size="32" textLength="49.90" lengthAdjust="spacingAndGlyphs">hub</text>
<text x="542.50" y="365.10" font-size="32" textLength="61.50" lengthAdjust="spacingAndGlyphs">edge</text>
<text x="298.40" y="403.30" font-size="32" textLength="25.60" lengthAdjust="spacingAndGlyphs">in</text>
<text x="335.40" y="403.30" font-size="32" textLength="103.50" lengthAdjust="spacingAndGlyphs">relation</text>
<text x="451.90" y="403.30" font-size="32" textLength="27.40" lengthAdjust="spacingAndGlyphs">to</text>
<text x="491.00" y="403.30" font-size="32" textLength="17.30" lengthAdjust="spacingAndGlyphs" font-style="italic">d</text>
<text x="509.00" y="408.10" font-size="22.5" textLength="15.00" lengthAdjust="spacingAndGlyphs">B</text>
<g transform="rotate(-90)">
<text x="-304.40" y="22.40" font-size="32" textLength="155.10" lengthAdjust="spacingAndGlyphs">Normalised</text>
<text x="-136.60" y="22.40" font-size="32" textLength="139.20" lengthAdjust="spacingAndGlyphs">equivalent</text>
<text x="-279.30" y="60.00" font-size="32" textLength="82.80" lengthAdjust="spacingAndGlyphs">stress,</text>
<text x="-184.20" y="60.00" font-size="32" textLength="78.40" lengthAdjust="spacingAndGlyphs">factor</text>
<text x="-92.60" y="60.00" font-size="32" textLength="13.20" lengthAdjust="spacingAndGlyphs" font-style="italic">k</text>
<text x="-77.50" y="65.70" font-size="22.7" textLength="53.20" lengthAdjust="spacingAndGlyphs">axial</text>
</g>
</g>
</svg>
</body></html>
